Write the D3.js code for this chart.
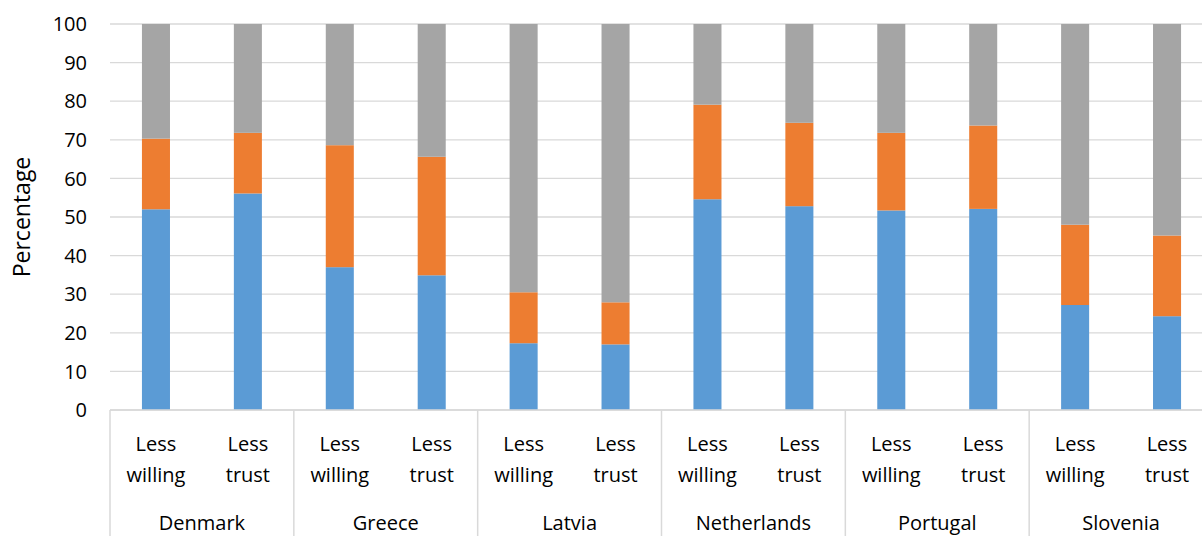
<!DOCTYPE html>
<html>
<head>
    <style>
        body { margin: 0; background: #fff; }
        text { font-family: "Open Sans", "Liberation Sans", sans-serif; fill: #000; }
        .tick-label { font-size: 20px; text-anchor: end; }
        .cat-label { font-size: 20px; text-anchor: middle; }
        .axis-title { font-size: 23px; text-anchor: middle; }
    </style>
    <script src="https://d3js.org/d3.v7.min.js"></script>
</head>
<body>
    <svg width="1202" height="536"></svg>
    <script>
        // chart values
        var countries = ["Denmark", "Greece", "Latvia", "Netherlands", "Portugal", "Slovenia"];
        var subLabels = [["Less", "willing"], ["Less", "trust"]];
        var seriesBlue   = [52.0, 56.1, 37.0, 34.9, 17.3, 17.0, 54.6, 52.8, 51.7, 52.1, 27.2, 24.3];
        var seriesOrange = [18.3, 15.7, 31.6, 30.7, 13.2, 10.9, 24.5, 21.6, 20.1, 21.6, 20.8, 20.9];
        var seriesGrey   = [29.7, 28.2, 31.4, 34.4, 69.5, 72.1, 20.9, 25.6, 28.2, 26.3, 52.0, 54.8];
        var yTicks = [0, 10, 20, 30, 40, 50, 60, 70, 80, 90, 100];

        var svg = d3.select("svg"),
            plotLeft = 110, plotRight = 1213, plotTop = 24, plotBottom = 410;

        var color = { blue: "#5B9BD5", orange: "#ED7D31", grey: "#A5A5A5" };

        // one row per bar
        var rows = [];
        countries.forEach(function(c, i) {
            subLabels.forEach(function(s, j) {
                var k = i * 2 + j;
                rows.push({ key: c + "|" + j, country: c, sub: s,
                            blue: seriesBlue[k], orange: seriesOrange[k], grey: seriesGrey[k] });
            });
        });

        var x = d3.scaleBand()
                  .domain(rows.map(function(d) { return d.key; }))
                  .range([plotLeft, plotRight])
                  .paddingInner(0.695)
                  .paddingOuter(0.3475);

        var xc = d3.scaleBand().domain(countries).range([plotLeft, plotRight]);

        var y = d3.scaleLinear().domain([0, 100]).range([plotBottom, plotTop]);

        // grid
        svg.append("g").selectAll("line")
           .data(yTicks)
           .enter().append("line")
           .attr("x1", plotLeft).attr("x2", plotRight)
           .attr("y1", function(d) { return y(d); })
           .attr("y2", function(d) { return y(d); })
           .attr("stroke", "#D9D9D9")
           .attr("stroke-width", 1.3);

        svg.append("g").selectAll("text")
           .data(yTicks)
           .enter().append("text")
           .attr("class", "tick-label")
           .attr("x", 87)
           .attr("y", function(d) { return y(d); })
           .attr("dy", "0.36em")
           .text(function(d) { return d; });

        svg.append("text")
           .attr("class", "axis-title")
           .attr("transform", "translate(30,217) rotate(-90)")
           .text("Percentage");

        // stacked bars
        var stack = d3.stack().keys(["blue", "orange", "grey"]);

        svg.append("g").selectAll("g")
           .data(stack(rows))
           .enter().append("g")
           .attr("fill", function(d) { return color[d.key]; })
           .selectAll("rect")
           .data(function(d) { return d; })
           .enter().append("rect")
           .attr("x", function(d) { return x(d.data.key); })
           .attr("width", x.bandwidth())
           .attr("y", function(d) { return y(d[1]); })
           .attr("height", function(d) { return y(d[0]) - y(d[1]); });

        // category axis
        svg.append("line")
           .attr("x1", plotLeft).attr("x2", plotRight)
           .attr("y1", plotBottom).attr("y2", plotBottom)
           .attr("stroke", "#D9D9D9").attr("stroke-width", 1.5);

        svg.append("g").selectAll("line")
           .data(countries)
           .enter().append("line")
           .attr("x1", function(d) { return xc(d); })
           .attr("x2", function(d) { return xc(d); })
           .attr("y1", plotBottom).attr("y2", 536)
           .attr("stroke", "#D9D9D9").attr("stroke-width", 1.5);

        var sub = svg.append("g").selectAll("text")
           .data(rows)
           .enter().append("text")
           .attr("class", "cat-label")
           .attr("x", function(d) { return x(d.key) + x.bandwidth() / 2; })
           .attr("y", 444);

        sub.append("tspan")
           .attr("x", function(d) { return x(d.key) + x.bandwidth() / 2; })
           .attr("dy", "0.36em")
           .text(function(d) { return d.sub[0]; });
        sub.append("tspan")
           .attr("x", function(d) { return x(d.key) + x.bandwidth() / 2; })
           .attr("dy", "1.55em")
           .text(function(d) { return d.sub[1]; });

        svg.append("g").selectAll("text")
           .data(countries)
           .enter().append("text")
           .attr("class", "cat-label")
           .attr("x", function(d) { return xc(d) + xc.bandwidth() / 2; })
           .attr("y", 523)
           .attr("dy", "0.36em")
           .text(function(d) { return d; });
    </script>
</body>
</html>
